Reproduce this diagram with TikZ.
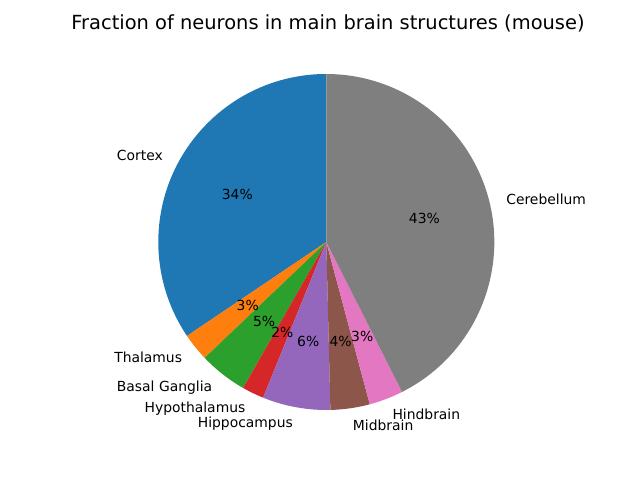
\documentclass[tikz,border=0pt]{standalone}
\usepackage{fontspec}
\setmainfont{DejaVu Sans}
\definecolor{c1}{HTML}{1F77B4}
\definecolor{c2}{HTML}{FF7F0E}
\definecolor{c3}{HTML}{2CA02C}
\definecolor{c4}{HTML}{D62728}
\definecolor{c5}{HTML}{9467BD}
\definecolor{c6}{HTML}{8C564B}
\definecolor{c7}{HTML}{E377C2}
\definecolor{c8}{HTML}{7F7F7F}
\tikzset{
  lbl/.style={inner sep=0pt, font=\fontsize{10}{12}\selectfont, text=black},
  pct/.style={inner sep=0pt, font=\fontsize{10}{12}\selectfont, text=black, anchor=center},
  ttl/.style={inner sep=0pt, font=\fontsize{14}{16}\selectfont, text=black}
}
\begin{document}
\begin{tikzpicture}[x=0.72pt,y=0.72pt]
\useasboundingbox (0,0) rectangle (640,480);
\coordinate (c) at (326.3,238);
\def\R{168}
\foreach \a/\b/\col in {90/214/c1, 214/223.6/c2, 223.6/240.3/c3, 240.3/247.9/c4, 247.9/271.4/c5, 271.4/285/c6, 285/296.8/c7, 296.8/450/c8}{
  \fill[\col] (c) -- ([shift={(c)}]\a:\R) arc[start angle=\a, end angle=\b, radius=\R] -- cycle;
}
% labels
\node[lbl, anchor=east] (lcortex) at ([shift={(c)}]152:184.8) {Cortex};
\node[lbl, anchor=east] (lthal) at ([shift={(c)}]218.8:184.8) {Thalamus};
\node[lbl, anchor=east] (lbg) at ([shift={(c)}]231.95:184.8) {Basal Ganglia};
\node[lbl, anchor=east] (lhypo) at ([shift={(c)}]244.1:184.8) {Hypothalamus};
\node[lbl, anchor=east] (lhippo) at ([shift={(c)}]259.65:184.8) {Hippocampus};
\node[lbl, anchor=west] (lmid) at ([shift={(c)}]278.2:184.8) {Midbrain};
\node[lbl, anchor=west] (lhind) at ([shift={(c)}]290.9:184.8) {Hindbrain};
\node[lbl, anchor=west] (lcereb) at ([shift={(c)}]373.4:184.8) {Cerebellum};
% percentages
\node[pct] (pcortex) at ([shift={(c)}]152:100.8) {34\%};
\node[pct] (pthal) at ([shift={(c)}]218.8:100.8) {3\%};
\node[pct] (pbg) at ([shift={(c)}]231.95:100.8) {5\%};
\node[pct] (phypo) at ([shift={(c)}]244.1:100.8) {2\%};
\node[pct] (phippo) at ([shift={(c)}]259.65:100.8) {6\%};
\node[pct] (pmid) at ([shift={(c)}]278.2:100.8) {4\%};
\node[pct] (phind) at ([shift={(c)}]290.9:100.8) {3\%};
\node[pct] (pcereb) at ([shift={(c)}]373.4:100.8) {43\%};
% title
\node[ttl] (title) at (328,457) {Fraction of neurons in main brain structures (mouse)};
\end{tikzpicture}
\end{document}
